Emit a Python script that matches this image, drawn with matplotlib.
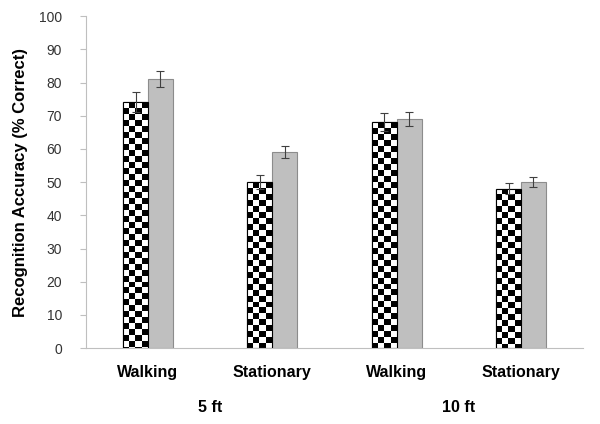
import numpy as np
import matplotlib
matplotlib.use("Agg")
import matplotlib.pyplot as plt

plt.rcParams["font.family"] = ["Liberation Sans", "DejaVu Sans"]

# ---------------------------------------------------------------------------
# data
# ---------------------------------------------------------------------------
categories = ["Walking", "Stationary", "Walking", "Stationary"]
groups     = ["5 ft", "10 ft"]
checker_vals = [74, 50, 68, 48]
checker_err  = [3.0, 2.0, 2.7, 1.7]
gray_vals    = [81, 59, 69, 50]
gray_err     = [2.4, 1.8, 2.0, 1.6]

x = np.arange(len(categories))
w = 0.2

fig = plt.figure(figsize=(6.0, 4.24), dpi=100)
ax = fig.add_axes([0.143, 0.179, 0.829, 0.783])

# checker bars: white base, then a clipped checkerboard image on top
bars_c = ax.bar(x - w / 2, checker_vals, w, color="white", edgecolor="black", lw=0.8, zorder=2)
cell_x = w / 4
cell_y = 1.8
for b in bars_c:
    x0, h = b.get_x(), b.get_height()
    nr = int(np.ceil(h / cell_y))
    board = (np.add.outer(np.arange(nr), np.arange(4)) % 2).astype(float)
    top = h
    bottom = h - nr * cell_y
    im = ax.imshow(board, cmap="gray_r", vmin=0, vmax=1, interpolation="nearest",
                   extent=(x0, x0 + 4 * cell_x, bottom, top), aspect="auto", zorder=2.5)
    im.set_clip_path(b)
    ax.add_patch(plt.Rectangle((x0, 0), w, h, fill=False, edgecolor="black", lw=0.8, zorder=3))

ax.bar(x + w / 2, gray_vals, w, color="#bfbfbf", edgecolor="#8c8c8c", lw=0.8, zorder=2)

ax.errorbar(x - w / 2, checker_vals, yerr=checker_err, fmt="none", ecolor="#404040",
            elinewidth=0.8, capsize=3, capthick=0.8, zorder=4)
ax.errorbar(x + w / 2, gray_vals, yerr=gray_err, fmt="none", ecolor="#404040",
            elinewidth=0.8, capsize=3, capthick=0.8, zorder=4)

ax.set_xlim(-0.5, len(categories) - 0.5)
ax.set_ylim(0, 100)
ax.set_yticks(range(0, 101, 10))
ax.set_xticks(x)
ax.set_xticklabels(categories, fontsize=11.5, fontweight="bold")
ax.tick_params(axis="x", length=0, pad=12)
ax.tick_params(axis="y", length=4, color="#bfbfbf", labelsize=10, labelcolor="#333333", pad=13)
ax.set_ylabel("Recognition Accuracy (% Correct)", fontsize=12, fontweight="bold", labelpad=8)

for s in ("top", "right"):
    ax.spines[s].set_visible(False)
for s in ("left", "bottom"):
    ax.spines[s].set_color("#bfbfbf")

for i, g in enumerate(groups):
    ax.text(2 * i + 0.5, -0.18, g, transform=ax.get_xaxis_transform(),
            ha="center", va="center", fontsize=11.5, fontweight="bold")

fig.savefig("out.png", dpi=100)
